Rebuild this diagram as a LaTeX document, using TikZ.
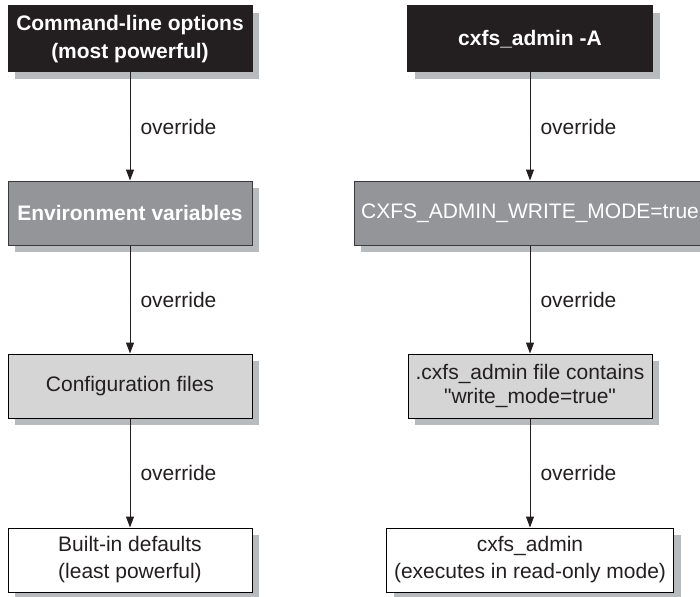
\documentclass[tikz,border=0pt]{standalone}
\usepackage{fontspec}
\setmainfont{Liberation Sans}[Ligatures=TeXOff]
\usetikzlibrary{shadows,arrows.meta}
\definecolor{boxblack}{HTML}{231F20}
\definecolor{boxdark}{HTML}{939598}
\definecolor{boxlight}{HTML}{D5D5D6}
\definecolor{shadowgray}{HTML}{B8BBBE}
\definecolor{borderdark}{HTML}{3A3A3A}
\tikzset{
  x=1pt,y=-1pt,
  basebox/.style={rectangle, inner sep=0pt, align=center, line width=1pt,
    font=\fontsize{21}{27}\selectfont,
    drop shadow={shadow xshift=7pt,shadow yshift=-7pt,fill=shadowgray,opacity=1,draw=none}},
  blackbox/.style={basebox, fill=boxblack, draw=boxblack, text=white, font=\fontsize{21}{28}\selectfont\bfseries},
  darkbox/.style={basebox, fill=boxdark, draw=borderdark, text=white},
  lightbox/.style={basebox, fill=boxlight, draw=black, text=boxblack},
  whitebox/.style={basebox, fill=white, draw=black, text=boxblack},
  arr/.style={line width=1pt, draw=boxblack, -{Triangle[length=11pt,width=8pt]}},
  lbl/.style={anchor=west, inner sep=0pt, xshift=10pt, text=boxblack, font=\fontsize{21}{26}\selectfont}
}
\begin{document}
\begin{tikzpicture}
\useasboundingbox (0,0) rectangle (700,596);
\begin{scope}
\clip (0,0) rectangle (700,596);
% left column
\node[blackbox, minimum width=244pt, minimum height=66pt] (l1) at (130,39) {Command-line options\\(most powerful)};
\node[darkbox, minimum width=244pt, minimum height=64pt, font=\fontsize{21}{26}\selectfont\bfseries] (l2) at (130,213) {Environment variables};
\node[lightbox, minimum width=244pt, minimum height=64pt] (l3) at (130,386) {Configuration files};
\node[whitebox, minimum width=244pt, minimum height=64pt] (l4) at (130,560) {Built-in defaults\\(least powerful)};
% right column
\node[blackbox, minimum width=245pt, minimum height=66pt] (r1) at (530,39) {cxfs\_admin -A};
\node[darkbox, minimum width=352pt, minimum height=64pt] (r2) at (530,213) {CXFS\_ADMIN\_WRITE\_MODE=true};
\node[lightbox, minimum width=244pt, minimum height=64pt, font=\fontsize{21}{24}\selectfont] (r3) at (530,386) {.cxfs\_admin file contains\\"write\_mode=true"};
\node[whitebox, minimum width=287pt, minimum height=64pt] (r4) at (530,560) {cxfs\_admin\\(executes in read-only mode)};
\end{scope}
% connectors
\draw[arr] (l1) -- node[lbl]{override} (l2);
\draw[arr] (l2) -- node[lbl]{override} (l3);
\draw[arr] (l3) -- node[lbl]{override} (l4);
\draw[arr] (r1) -- node[lbl]{override} (r2);
\draw[arr] (r2) -- node[lbl]{override} (r3);
\draw[arr] (r3) -- node[lbl]{override} (r4);
\end{tikzpicture}
\end{document}
